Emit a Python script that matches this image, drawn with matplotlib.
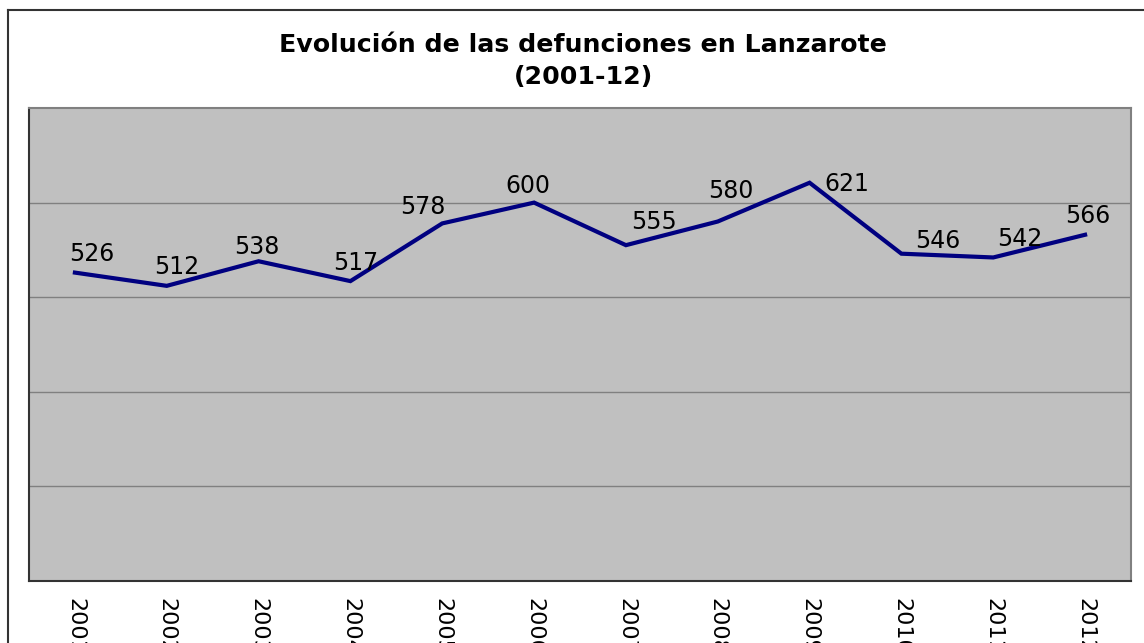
import matplotlib.pyplot as plt
from matplotlib.lines import Line2D

years = ["2001", "2002", "2003", "2004", "2005", "2006",
         "2007", "2008", "2009", "2010", "2011", "2012"]
deaths = [526, 512, 538, 517, 578, 600, 555, 580, 621, 546, 542, 566]

# label offsets in pixels (dx, dy) relative to each point, as Excel placed them
label_dx = [17, 10, -2, 5, -19, -6, 28, 13, 37, 36, 27, 3]
label_dy = [19, 19, 14, 18, 16, 17, 23, 31, -1, 13, 18, 19]

W, H = 1144, 643
fig = plt.figure(figsize=(W / 100, H / 100), dpi=100)
fig.patch.set_facecolor("white")

ax = fig.add_axes([29 / W, (H - 581) / H, 1102 / W, 473 / H])
ax.set_facecolor("#C0C0C0")

x = list(range(len(years)))
ax.plot(x, deaths, color="#000080", linewidth=3.0, solid_joinstyle="miter", zorder=3)

for xi, v, dx, dy in zip(x, deaths, label_dx, label_dy):
    ax.annotate(str(v), (xi, v), xytext=(dx, dy), textcoords="offset pixels",
                ha="center", va="center", fontsize=17, color="black", zorder=4)

ax.set_xlim(-0.5, len(years) - 0.5)
ax.set_ylim(200, 700)
ax.set_yticks([300, 400, 500, 600])
ax.yaxis.grid(True, color="#808080", linewidth=1)
ax.set_axisbelow(True)
ax.tick_params(axis="y", left=False, labelleft=False)
ax.set_xticks(x)
ax.set_xticklabels(years, rotation=-90, fontsize=16, va="top", ha="center")
ax.tick_params(axis="x", length=0, pad=12)

for side in ["left", "bottom"]:
    ax.spines[side].set_color("#333333")
    ax.spines[side].set_linewidth(1.5)
for side in ["top", "right"]:
    ax.spines[side].set_color("#808080")
    ax.spines[side].set_linewidth(1.5)

fig.text(583 / W, 1 - 45 / H, "Evolución de las defunciones en Lanzarote",
         ha="center", va="center", fontsize=18.2, fontweight="bold")
fig.text(583 / W, 1 - 77 / H, "(2001-12)",
         ha="center", va="center", fontsize=18.2, fontweight="bold")

# outer chart border (top and left visible)
fig.add_artist(Line2D([8 / W, 1.0], [1 - 10 / H] * 2, transform=fig.transFigure,
                      color="#333333", linewidth=1.5))
fig.add_artist(Line2D([8 / W] * 2, [0, 1 - 10 / H], transform=fig.transFigure,
                      color="#333333", linewidth=1.5))

fig.savefig("out.png", dpi=100)
plt.close(fig)
